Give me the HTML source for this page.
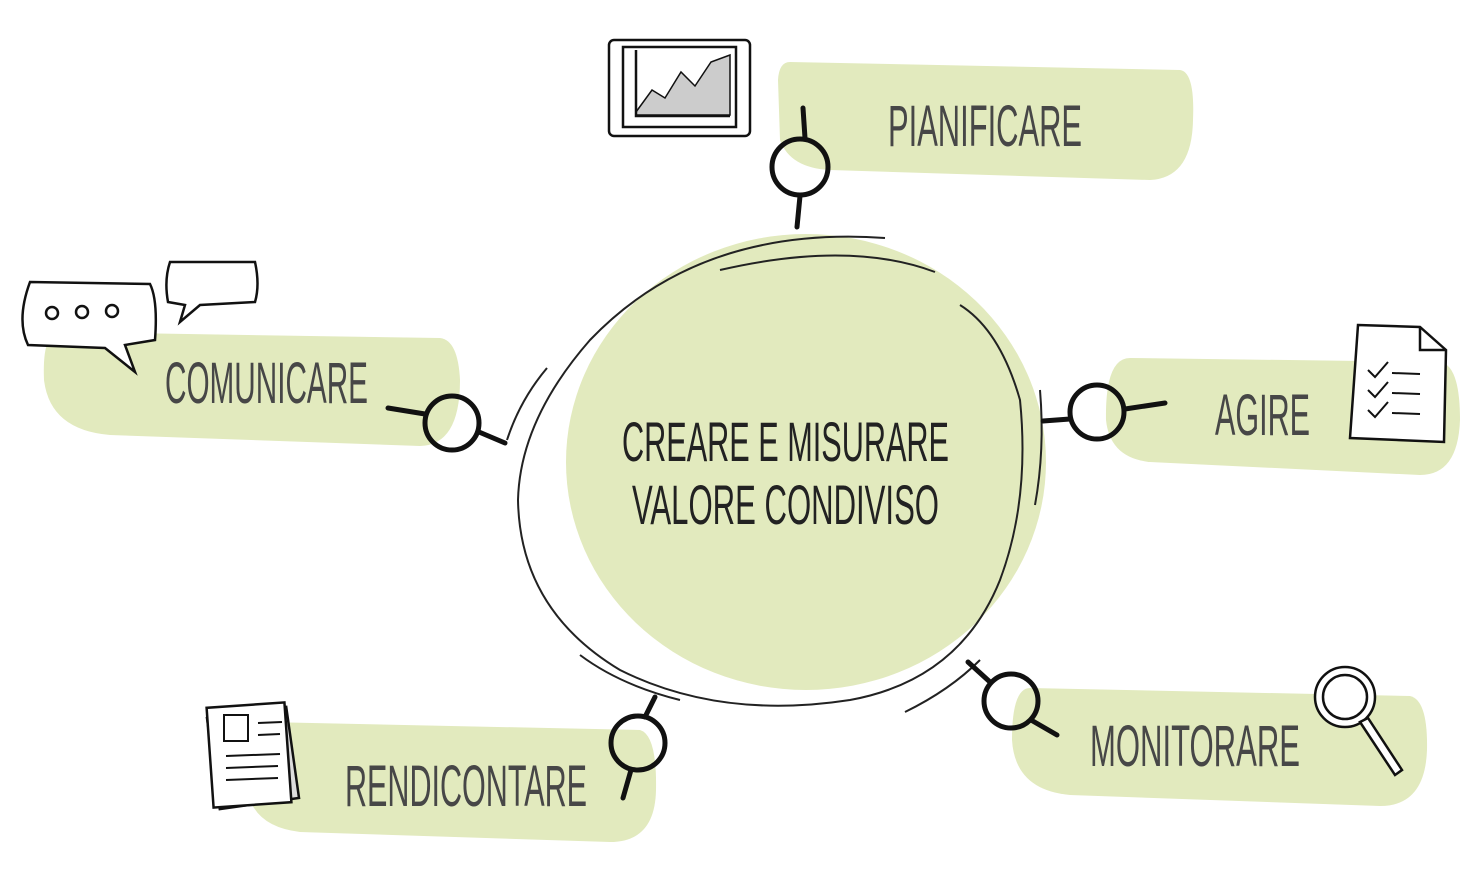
<!DOCTYPE html>
<html><head><meta charset="utf-8"><style>
html,body{margin:0;padding:0;background:#fff;width:1483px;height:892px;overflow:hidden}
text{font-family:"Liberation Sans",sans-serif;fill:#474747}
</style></head><body>
<svg width="1483" height="892" viewBox="0 0 1483 892" xmlns="http://www.w3.org/2000/svg">
<g fill="#e2eabe">
<path d="M790 62 L1180 70 Q1195 72 1193 120 Q1192 178 1150 180 L830 170 Q790 168 780 140 L778 80 Q779 62 790 62Z"/>
<path d="M60 332 L440 338 Q458 340 460 380 Q460 445 420 446 L110 435 Q50 430 44 380 Q42 332 60 332Z"/>
<path d="M1130 358 L1440 362 Q1460 365 1460 420 Q1458 475 1420 475 L1150 462 Q1110 458 1106 420 Q1105 358 1130 358Z"/>
<path d="M1030 688 L1410 696 Q1428 700 1427 750 Q1425 806 1380 806 L1070 795 Q1015 790 1012 740 Q1012 688 1030 688Z"/>
<path d="M265 722 L640 730 Q657 735 656 790 Q655 842 610 842 L300 832 Q248 826 246 780 Q245 722 265 722Z"/>
<ellipse cx="806" cy="462" rx="240" ry="228"/>
</g>
<g fill="none" stroke="#222" stroke-width="2">
<path d="M885 238 Q700 225 590 340 Q520 420 518 500 Q520 610 620 670 Q720 720 850 700 Q960 680 1000 580 Q1030 500 1020 400 Q1000 330 960 305"/>
<path d="M935 272 Q850 240 720 270"/>
<path d="M547 368 Q520 400 507 440"/>
<path d="M580 655 Q620 685 680 700"/>
<path d="M905 712 Q950 690 980 660"/>
<path d="M1040 390 Q1045 450 1035 505"/>
</g>
<g fill="none" stroke="#111" stroke-width="5" stroke-linecap="round">
<circle cx="800" cy="167" r="28"/><path d="M803 108 L805 138 M800 196 L797 227"/>
<circle cx="452" cy="423" r="27"/><path d="M388 408 L425 414 M479 432 L505 443"/>
<circle cx="1097" cy="412" r="27"/><path d="M1043 421 L1070 419 M1125 409 L1165 403"/>
<circle cx="1011" cy="701" r="27"/><path d="M968 662 L990 682 M1031 720 L1057 735"/>
<circle cx="638" cy="743" r="27"/><path d="M655 697 L645 717 M631 770 L623 798"/>
</g>
<text x="888" y="146" font-size="58" textLength="194" lengthAdjust="spacingAndGlyphs">PIANIFICARE</text>
<text x="165" y="403" font-size="58" textLength="203" lengthAdjust="spacingAndGlyphs">COMUNICARE</text>
<text x="1215" y="435" font-size="58" textLength="95" lengthAdjust="spacingAndGlyphs">AGIRE</text>
<text x="1090" y="766" font-size="58" textLength="210" lengthAdjust="spacingAndGlyphs">MONITORARE</text>
<text x="345" y="806" font-size="58" textLength="242" lengthAdjust="spacingAndGlyphs">RENDICONTARE</text>
<text x="622" y="461" font-size="56" textLength="327" lengthAdjust="spacingAndGlyphs" fill="#222" style="fill:#222">CREARE E MISURARE</text>
<text x="632" y="524" font-size="56" textLength="307" lengthAdjust="spacingAndGlyphs" style="fill:#222">VALORE CONDIVISO</text>
<!-- icons -->
<g fill="#fff" stroke="#111" stroke-width="2.5">
<rect x="609" y="40" width="141" height="96" rx="5"/>
<rect x="623" y="47" width="113" height="80" fill="#fff"/>
<path d="M636 112 L652 90 L665 98 L681 72 L695 86 L711 62 L730 55 L730 115 L636 115Z" fill="#ccc" stroke-width="1.5"/>
<path d="M636 50 L636 116 L730 116" fill="none"/>
<path d="M30 282 L150 284 Q158 300 155 340 L125 345 L135 372 L105 348 L28 345 Q16 320 30 282Z"/>
<circle cx="52" cy="313" r="6"/><circle cx="82" cy="312" r="6"/><circle cx="112" cy="311" r="6"/>
<path d="M170 262 L255 262 Q260 285 255 302 L200 305 L180 322 L185 305 L168 302 Q164 280 170 262Z"/>
<path d="M1358 325 L1420 327 L1446 350 L1444 442 L1350 438 Z"/>
<path d="M1420 327 L1420 350 L1446 350" fill="none"/>
<path d="M1368 370 L1375 377 L1388 362 M1392 373 L1420 374 M1368 390 L1375 397 L1388 382 M1392 393 L1420 394 M1368 410 L1375 417 L1388 402 M1392 413 L1420 414" fill="none" stroke-width="2"/>
<circle cx="1345" cy="697" r="30"/><circle cx="1345" cy="697" r="22"/>
<path d="M1360 722 L1395 775 L1402 770 L1368 718Z"/>
<rect x="213" y="712" width="80" height="92" transform="rotate(-8 253 758)" fill="#ddd"/>
<rect x="210" y="705" width="78" height="100" transform="rotate(-4 249 755)"/>
<rect x="224" y="715" width="24" height="26" stroke-width="2"/>
<path d="M258 723 L282 722 M258 735 L280 734 M226 756 L280 754 M226 768 L278 766 M226 780 L278 778" fill="none" stroke-width="2"/>
</g>
</svg>
</body></html>
